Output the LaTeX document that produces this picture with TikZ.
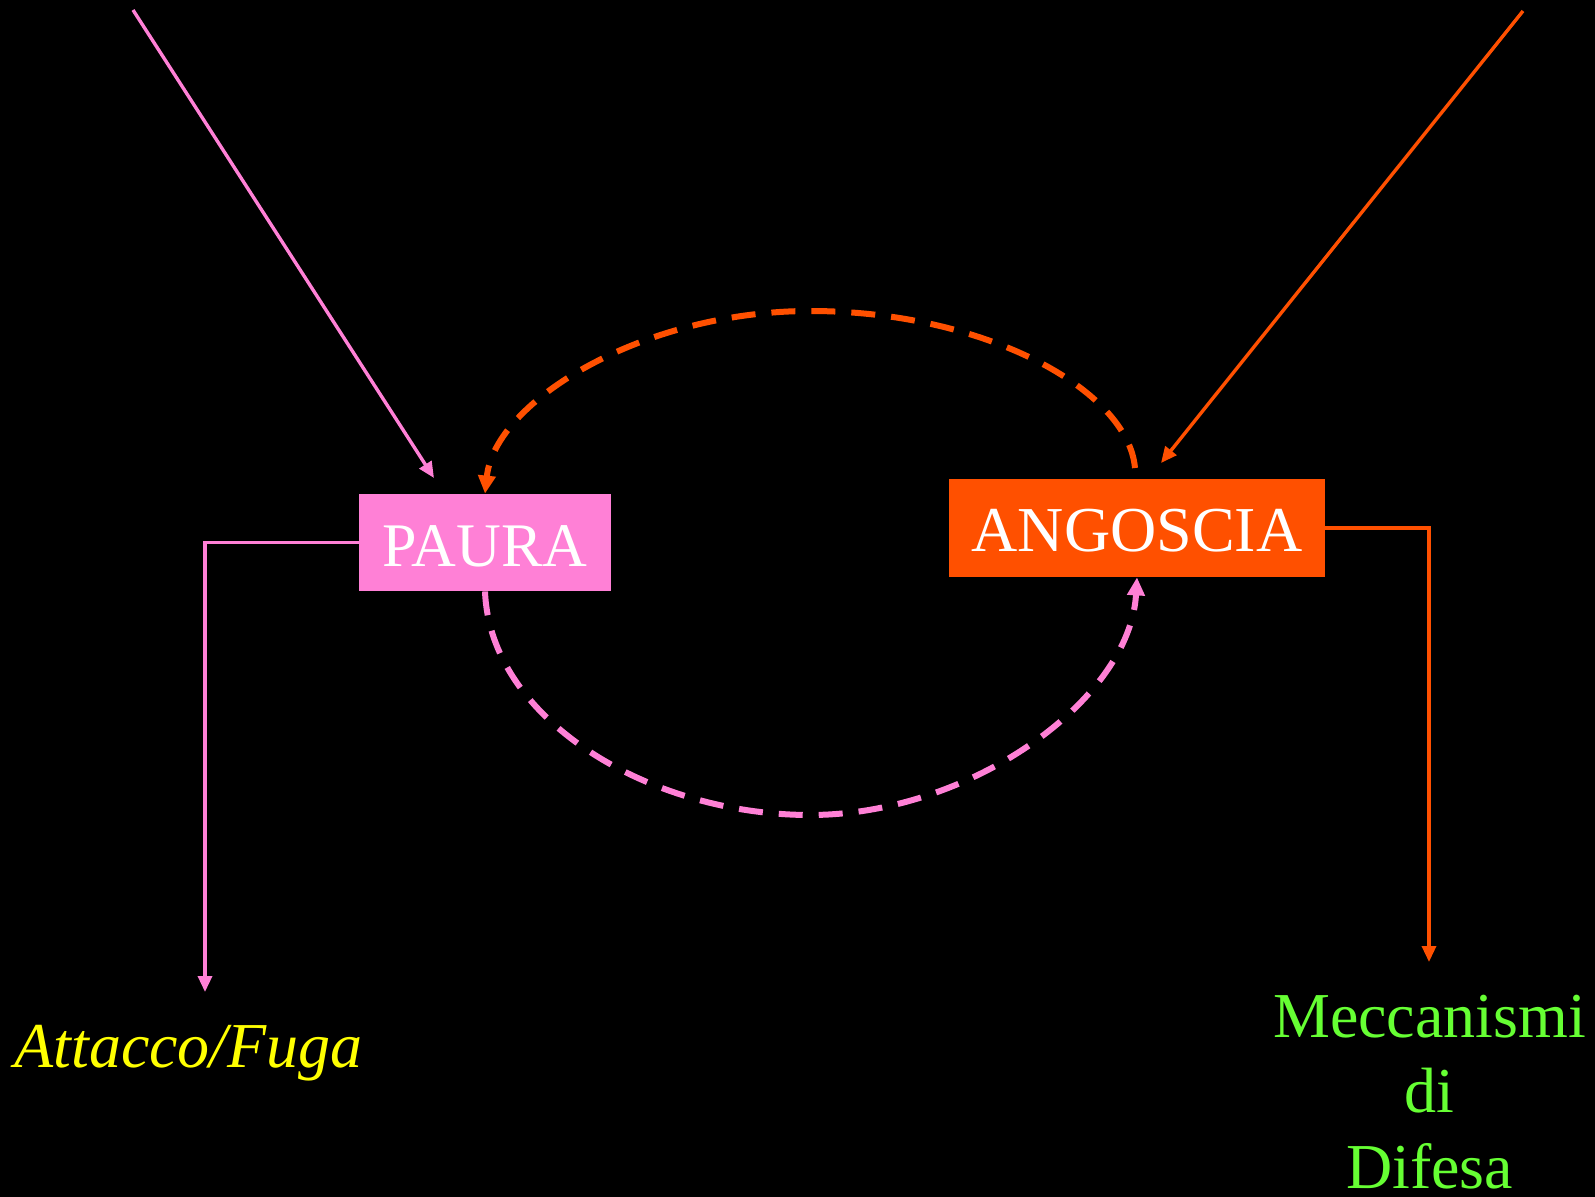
\documentclass[tikz,border=0pt]{standalone}
\usepackage{fontspec}
\setmainfont{Liberation Serif}
\usetikzlibrary{arrows.meta,calc}
\definecolor{pinkc}{HTML}{FF80D6}
\definecolor{orangec}{HTML}{FF5000}
\definecolor{greenc}{HTML}{66FF33}
\definecolor{yellowc}{HTML}{FFFF00}
\tikzset{
  boxnode/.style={inner sep=0pt, text=white, align=center},
  thinline/.style={line width=1.7pt, -{Triangle[length=8pt,width=7pt]}},
  dashline/.style={line width=3pt, dash pattern=on 12pt off 8pt, -{Triangle[length=9pt,width=8.5pt]}},
  labeltext/.style={inner sep=0pt, font=\fontsize{32pt}{37.5pt}\selectfont}
}
\begin{document}
\begin{tikzpicture}[x=0.5pt,y=-0.5pt]
\fill[black] (0,0) rectangle (1595,1197);
\useasboundingbox (0,0) rectangle (1595,1197);

\node[boxnode, fill=pinkc, minimum width=126pt, minimum height=48.5pt,
      font=\fontsize{31pt}{36pt}\selectfont, text height=24.5pt, text depth=0pt] (paura) at (485,542.5) {PAURA};
\node[boxnode, fill=orangec, minimum width=188pt, minimum height=49pt,
      font=\fontsize{32pt}{37pt}\selectfont, text height=23.7pt, text depth=0pt] (ang) at (1137,528) {ANGOSCIA};

\node[labeltext, text=yellowc, anchor=base, font=\fontsize{32pt}{37.5pt}\selectfont\itshape] (att) at (188.5,1067) {Attacco/Fuga};
\node[labeltext, text=greenc, anchor=base] (mec1) at (1429.5,1037) {Meccanismi};
\node[labeltext, text=greenc, anchor=base] (mec2) at (1429.5,1112) {di};
\node[labeltext, text=greenc, anchor=base] (mec3) at (1429.5,1188) {Difesa};

\coordinate (pStart) at (133,10);
\coordinate (pTip) at (434,478);
\coordinate (oStart) at (1523,11);
\coordinate (oTip) at (1161,463);
\coordinate (attTip) at (205,992);
\coordinate (mecTip) at (1429,962);
\coordinate (topStart) at (1135,468);
\coordinate (topPeak) at (810,311);
\coordinate (botLow) at (810,815);

\draw[thinline, pinkc] (pStart) -- (pTip);
\draw[thinline, orangec] (oStart) -- (oTip);
\draw[thinline, pinkc] (paura.west) -| (attTip);
\draw[thinline, orangec] (ang.east) -| (mecTip);

\draw[dashline, orangec] (topStart) .. controls (1128,390) and (985,311) .. (topPeak)
      .. controls (645,311) and (495,400) .. (paura.north);
\draw[dashline, pinkc] (paura.south) .. controls (490,720) and (650,815) .. (botLow)
      .. controls (970,815) and (1130,700) .. (ang.south);
\end{tikzpicture}
\end{document}
